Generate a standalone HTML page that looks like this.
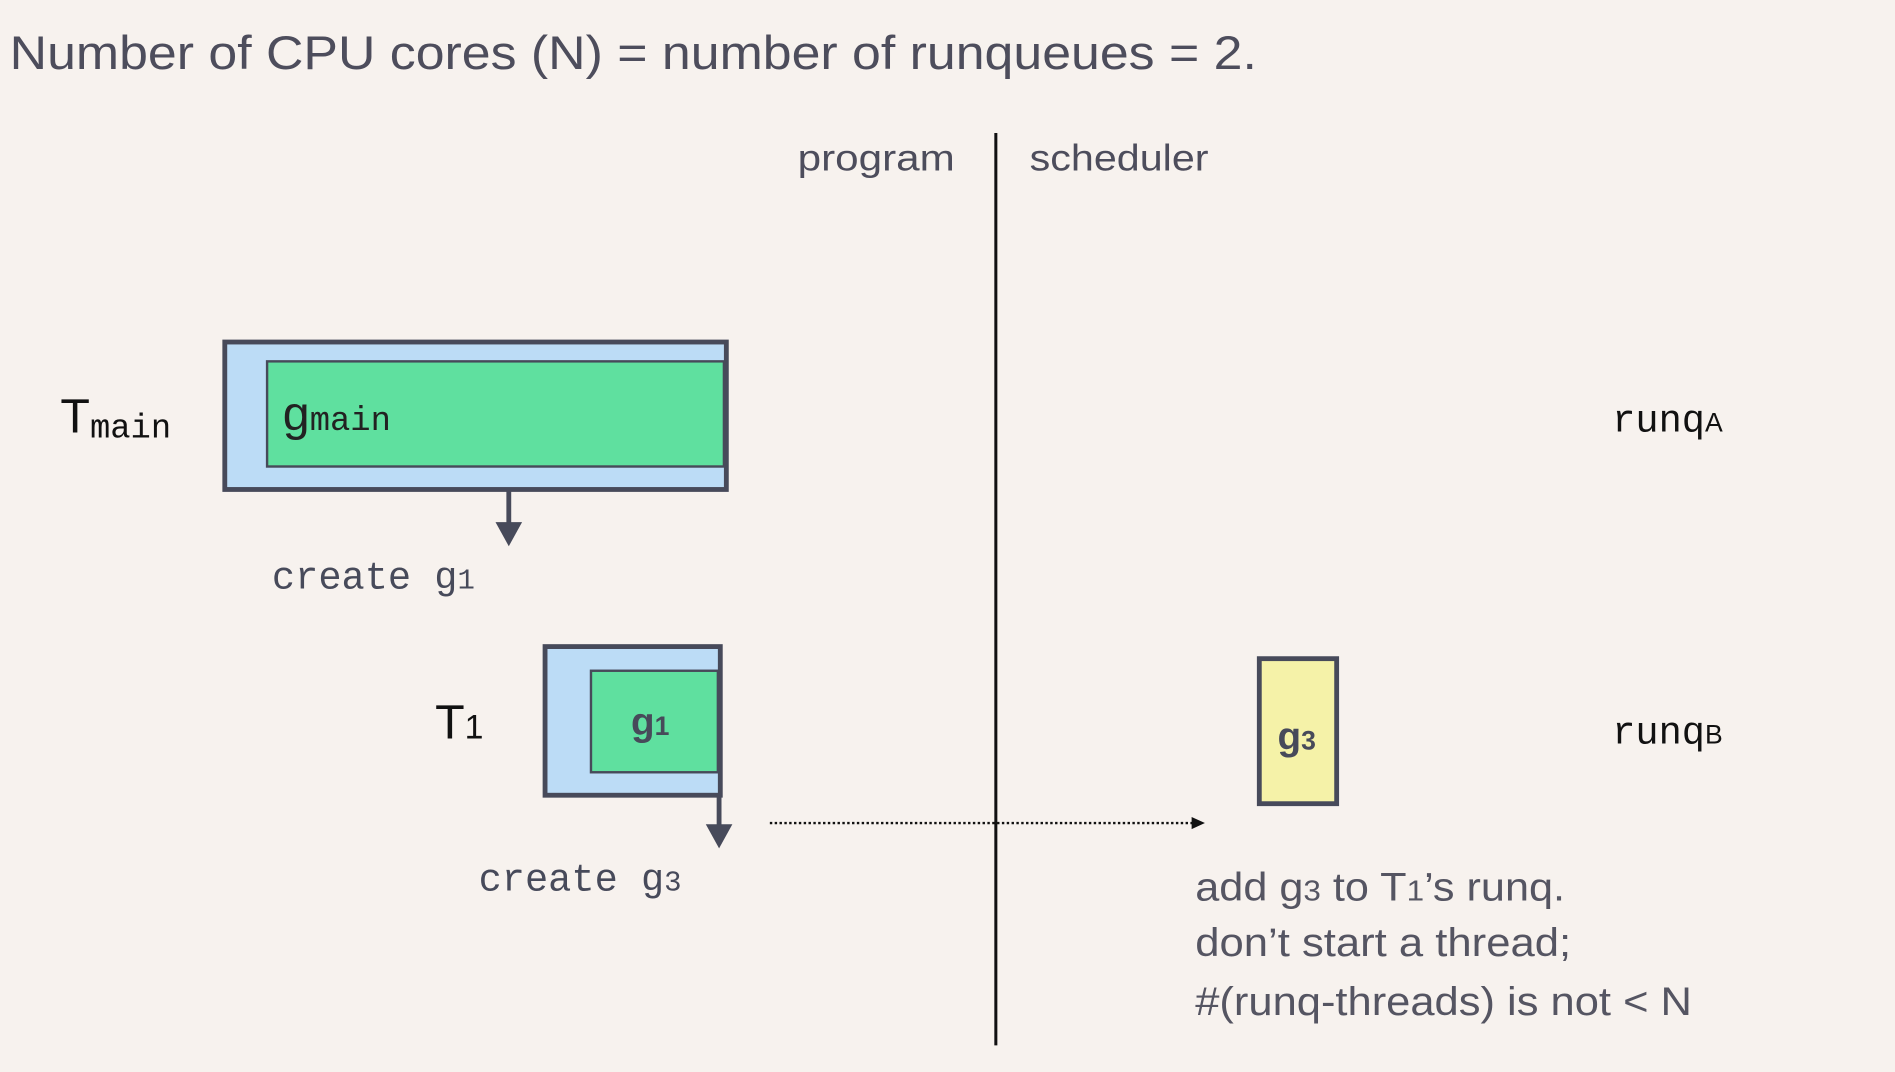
<!DOCTYPE html>
<html><head><meta charset="utf-8"><style>
html,body{margin:0;padding:0;background:#f7f2ee;}
svg{display:block;}
.sans{font-family:"Liberation Sans","DejaVu Sans",sans-serif;}
.mono{font-family:"Liberation Mono","DejaVu Sans Mono",monospace;}
</style></head><body>
<svg width="1895" height="1072" viewBox="0 0 1568 887">
<rect x="0" y="0" width="1568" height="887" fill="#f7f2ee"/>
<text x="8" y="57" class="sans" font-size="39" fill="#4d4d5c" textLength="1032" lengthAdjust="spacingAndGlyphs">Number of CPU cores (N) = number of runqueues = 2.</text>
<text x="660" y="141" class="sans" font-size="31" fill="#4d4d5c" textLength="130" lengthAdjust="spacingAndGlyphs">program</text>
<text x="852" y="141" class="sans" font-size="31" fill="#4d4d5c" textLength="148" lengthAdjust="spacingAndGlyphs">scheduler</text>
<line x1="824" y1="110" x2="824" y2="865" stroke="#111" stroke-width="2.5"/>

<g>
<rect x="186" y="283" width="415" height="122" fill="#bcdcf6" stroke="#474a5a" stroke-width="4"/>
<rect x="221" y="299" width="378" height="87" fill="#5fe09f" stroke="#474a5a" stroke-width="2"/>
<text x="234" y="356" class="sans" font-size="40" fill="#222">g<tspan class="mono" font-size="28">main</tspan></text>
</g>
<text x="50" y="358" class="sans" font-size="40" fill="#111">T<tspan class="mono" font-size="28" dy="4">main</tspan></text>
<line x1="421" y1="405" x2="421" y2="434" stroke="#474a5a" stroke-width="4"/>
<polygon points="410,432 432,432 421,452" fill="#474a5a"/>
<text x="225" y="487" class="mono" font-size="32" fill="#474a5a">create g<tspan font-size="24">1</tspan></text>

<g>
<rect x="451" y="535" width="145" height="123" fill="#bcdcf6" stroke="#474a5a" stroke-width="4"/>
<rect x="489" y="555" width="105" height="84" fill="#5fe09f" stroke="#474a5a" stroke-width="2"/>
<text x="538" y="608" text-anchor="middle" class="sans" font-size="32" font-weight="bold" fill="#474a5a">g<tspan font-size="22">1</tspan></text>
</g>
<text x="360" y="611" class="sans" font-size="40" fill="#111">T<tspan font-size="28">1</tspan></text>
<line x1="595" y1="658" x2="595" y2="684" stroke="#474a5a" stroke-width="4"/>
<polygon points="584,682 606,682 595,702" fill="#474a5a"/>
<text x="396" y="737" class="mono" font-size="32" fill="#474a5a">create g<tspan font-size="24">3</tspan></text>

<line x1="637" y1="681" x2="988" y2="681" stroke="#111" stroke-width="2" stroke-dasharray="2,2"/>
<polygon points="986,676 997,681 986,686" fill="#111"/>

<g>
<rect x="1042" y="545" width="64" height="120" fill="#f5f2a8" stroke="#474a5a" stroke-width="4"/>
<text x="1073" y="620" text-anchor="middle" class="sans" font-size="32" font-weight="bold" fill="#474a5a">g<tspan font-size="22">3</tspan></text>
</g>

<text x="1334" y="357" class="mono" font-size="32" fill="#111">runq<tspan class="sans" font-size="22">A</tspan></text>
<text x="1334" y="615" class="mono" font-size="32" fill="#111">runq<tspan class="sans" font-size="22">B</tspan></text>

<g class="sans" font-size="33" fill="#555562">
<text x="989" y="745" textLength="306" lengthAdjust="spacingAndGlyphs">add g<tspan font-size="24">3</tspan> to T<tspan font-size="24">1</tspan>’s runq.</text>
<text x="989" y="791" textLength="311" lengthAdjust="spacingAndGlyphs">don’t start a thread;</text>
<text x="989" y="840" textLength="411" lengthAdjust="spacingAndGlyphs">#(runq-threads) is not &lt; N</text>
</g>
</svg>
</body></html>
